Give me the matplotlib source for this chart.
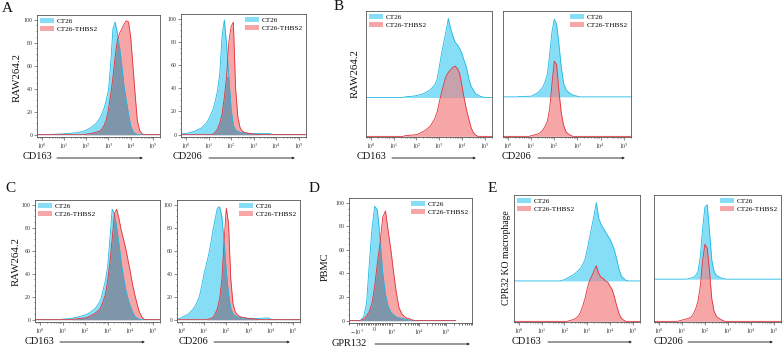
import numpy as np
import matplotlib.pyplot as plt
from matplotlib.patches import Patch

plt.rcParams['font.family'] = ['Liberation Serif', 'DejaVu Serif']
plt.rcParams['mathtext.fontset'] = 'stix'

W, H = 784, 348
STEP = 0.1  # histogram bins are 0.1 decade wide

# histogram heights (% of max), first bin given by *_from
a1_ct26_from = 0.5
a1_ct26 = [0.3, 0.4, 0.5, 0.6, 0.7, 0.8, 1.0, 1.1, 1.3, 1.4, 1.6, 1.9, 2.2, 2.6, 3.2, 4, 5, 6, 7.5, 9,
           11, 14, 18, 23, 30, 39, 62, 92, 98, 88, 76, 60, 42, 30, 18, 8, 3, 1, 0.5, 0]
a1_thbs2_from = 2.0
a1_thbs2 = [0.5, 0.7, 1, 1.5, 2, 2.5, 3, 5, 8, 13, 22, 35, 50, 68, 82, 88, 92, 96, 99, 98,
            85, 60, 35, 12, 4, 1, 0]

a2_ct26_from = -0.2
a2_ct26 = [0.5, 0.8, 1, 1.5, 2, 2.5, 3, 4, 5, 6, 8, 10, 13, 17, 22, 29, 38, 53, 85, 99,
           78, 50, 22, 8, 4, 3, 2, 2, 1.5, 1.5, 1, 1, 1, 1, 1, 1, 1, 1, 1, 1, 0.5, 0]
a2_thbs2_from = 1.2
a2_thbs2 = [0.5, 2, 5, 10, 18, 32, 50, 80, 93, 97, 40, 15, 6, 3, 2, 1.5, 1, 1, 0.5, 0.3, 0.2, 0]

# B and E: CT26 is stacked above the THBS2 trace, heights given above its own baseline
b1_ct26_from = 1.5
b1_ct26 = [0.5, 0.7, 0.8, 1, 1.2, 1.5, 2, 2.5, 3, 4, 5, 6, 8, 10, 14, 24, 35, 44, 53, 63,
           55, 49, 44, 42, 39, 35, 29, 24, 15, 9, 6, 3, 2, 1, 0.5, 0]
b1_thbs2_from = 1.5
b1_thbs2 = [0.5, 0.7, 0.9, 1, 1.2, 1.5, 2, 3, 4, 5, 6.5, 8, 11, 14, 19, 27, 35, 42, 48, 51,
            53, 55, 56, 54, 50, 40, 30, 21, 14, 7, 3, 1, 0]

b2_ct26_from = 0.5
b2_ct26 = [0.3, 0.3, 0.4, 0.4, 0.5, 0.5, 1.5, 2.5, 3.5, 5.5, 7.5, 12, 18, 34, 52, 62, 58, 42, 24, 11,
           6, 4, 2.5, 1.5, 1, 0.5, 0]
b2_thbs2_from = 1.0
b2_thbs2 = [0.5, 1, 1.5, 2, 3, 5, 8, 12, 22, 42, 60, 57, 36, 19, 9, 4, 2, 1, 0]

c1_ct26_from = 1.0
c1_ct26 = [0.5, 0.6, 0.8, 1, 1.2, 1.6, 2, 2.5, 3, 3.5, 4, 5, 6, 7.5, 9, 11, 14, 18, 26, 34,
           46, 70, 96, 92, 80, 66, 50, 37, 26, 18, 12, 7, 3, 1.5, 0.5, 0]
c1_thbs2_from = 1.5
c1_thbs2 = [0.5, 0.7, 0.9, 1.1, 1.3, 1.5, 2, 3, 4, 5, 6.5, 8, 11, 16, 22, 34, 50, 70, 92, 96,
            88, 78, 70, 62, 52, 42, 31, 22, 14, 7, 3, 0.5, 0]

c2_ct26_from = -0.3
c2_ct26 = [0.3, 0.5, 1, 2, 3, 4, 5, 7, 9, 12, 16, 21, 30, 40, 48, 56, 66, 78, 88, 97,
           98, 90, 68, 42, 22, 10, 5, 3.5, 2.5, 2, 1.5, 1.5, 1, 1, 1, 1, 1, 1, 1, 1.2,
           1.5, 1.5, 1.5, 0.5, 0]
c2_thbs2_from = 1.2
c2_thbs2 = [0.5, 1, 2, 5, 10, 18, 35, 68, 97, 84, 36, 14, 7, 4, 3, 2, 2, 1.5, 1, 1, 1, 0.5, 0]

# D: biexponential GPR132 axis, bins in display units (10^3 sits at 0.65)
d_ticks = [-0.65, 0, 0.65, 1.65, 2.65]
d_labels = ['$-10^{3}$', '0', '$10^{3}$', '$10^{4}$', '$10^{5}$']
d_ct26_from = -0.6
d_ct26 = [0, 0.5, 4, 15, 48, 78, 97, 94, 70, 40, 22, 12, 7, 5, 3, 2.5, 2, 1.5, 1, 0.5, 0]
d_thbs2_from = -0.6
d_thbs2 = [0, 0.5, 1.5, 4, 8, 15, 29, 49, 66, 88, 93, 76, 60, 41, 24, 11, 6, 3.5, 2, 1.5, 0.5, 0]

e1_ct26_from = 1.8
e1_ct26 = [0, 0.5, 1, 2, 3, 4, 5, 6.5, 8, 10, 13, 17, 25, 34, 43, 52, 62, 50, 45, 42,
           39, 36, 33, 29, 24, 17, 9, 4, 2, 0.5, 0]
e1_thbs2_from = 2.2
e1_thbs2 = [0.5, 1, 1.5, 2.5, 4, 7, 12, 18, 26, 32, 36, 40, 44, 38, 35, 34, 32, 31, 28, 25,
            19, 12, 6, 2.5, 1, 0]

e2_ct26_from = 1.2
e2_ct26 = [0, 0.5, 1, 1.5, 3, 6, 18, 40, 57, 59, 38, 15, 6, 3, 2, 1, 0.5, 0]
e2_thbs2_from = 0.9
e2_thbs2 = [0.5, 1, 1.5, 2, 2.5, 3.5, 6, 10, 16, 28, 48, 61, 58, 40, 18, 8, 4, 2.5, 1.5, 0.5, 0]

legend_labels = ['CT26', 'CT26-THBS2']

CYAN, CYAN_EDGE = '#86def6', '#1fb6e4'
RED, RED_EDGE = '#f6a6a6', '#e3303a'
MIX = '#7f95aa'
MIX_STACK = '#c7a2ac'
INK = '#333333'

fig = plt.figure(figsize=(7.84, 3.48), dpi=100)


def box(l, t, r, b):
    return fig.add_axes([l / W, 1 - b / H, (r - l) / W, (b - t) / H])


def place(grid, start, vals):
    out = np.zeros(len(grid))
    i0 = int(round((start - grid[0]) / STEP))
    out[i0:i0 + len(vals)] = vals
    return out


def hist(ax, grid, cyan, red, base=0.0, mix=MIX):
    top = base + cyan
    ax.fill_between(grid, base, top, color=CYAN, lw=0)
    ax.fill_between(grid, 0, red, color=RED, lw=0)
    both = np.minimum(top, red)
    ax.fill_between(grid, base, both, where=both > base, interpolate=True, color=mix, lw=0)
    ax.plot(grid, top, color=CYAN_EDGE, lw=0.6)
    ax.plot(grid, red, color=RED_EDGE, lw=0.6)


def frame(ax, yticks=True):
    for s in ax.spines.values():
        s.set_linewidth(0.6)
        s.set_color('#555555')
    ax.tick_params(which='both', direction='out', width=0.4, colors=INK, labelsize=4.2, pad=1)
    ax.tick_params(which='major', length=2)
    ax.tick_params(which='minor', length=1)
    if yticks:
        ax.set_ylim(-2, 104)
        ax.set_yticks(range(0, 101, 20))
        ax.set_yticks(range(0, 101, 5), minor=True)
    else:
        ax.set_ylim(-0.5, 100)
        ax.set_yticks([])
        ax.set_yticks([], minor=True)


def log_axis(ax, xlim=(-0.22, 5.32)):
    ax.set_xlim(*xlim)
    ax.set_xticks(range(6))
    ax.set_xticklabels([f'$10^{{{k}}}$' for k in range(6)])
    minor = [k + np.log10(m) for k in range(-1, 6) for m in range(2, 10)]
    ax.set_xticks([v for v in minor if xlim[0] < v < xlim[1]], minor=True)


def legend(ax, loc):
    handles = [Patch(facecolor=CYAN, edgecolor='none'), Patch(facecolor=RED, edgecolor='none')]
    ax.legend(handles, legend_labels, loc=loc, fontsize=5.2, frameon=False, handlelength=2.0,
              handleheight=0.8, handletextpad=0.35, labelspacing=0.25, borderaxespad=0.2, borderpad=0.2)


def text(x, y, s, size=7.5, **kw):
    fig.text(x / W, 1 - y / H, s, fontsize=size, color='#111111', **kw)


def xlabel(x, y, s, x0, x1):
    text(x, y, s, ha='left', va='center')
    fig.add_artist(plt.Annotation('', xy=(x1 / W, 1 - (y + 1) / H), xytext=(x0 / W, 1 - (y + 1) / H),
                                  xycoords='figure fraction',
                                  arrowprops=dict(arrowstyle='-|>', lw=0.7, color=INK, mutation_scale=3,
                                                  shrinkA=0, shrinkB=0)))


grid = np.round(np.arange(-0.4, 5.55, STEP), 2)
dgrid = np.round(np.arange(-0.9, 3.05, STEP), 2)

# box, data, stacked baseline, legend loc
panels = [
    ((37, 15, 160, 137), a1_ct26_from, a1_ct26, a1_thbs2_from, a1_thbs2, None, 'upper left'),
    ((181, 14, 306, 137), a2_ct26_from, a2_ct26, a2_thbs2_from, a2_thbs2, None, 'upper right'),
    ((366, 11, 492, 137), b1_ct26_from, b1_ct26, b1_thbs2_from, b1_thbs2, 31, 'upper left'),
    ((503, 11, 631, 137), b2_ct26_from, b2_ct26, b2_thbs2_from, b2_thbs2, 31.5, 'upper right'),
    ((35, 200, 160, 322), c1_ct26_from, c1_ct26, c1_thbs2_from, c1_thbs2, None, 'upper left'),
    ((177, 200, 300, 322), c2_ct26_from, c2_ct26, c2_thbs2_from, c2_thbs2, None, 'upper right'),
    ((514, 195, 640, 322), e1_ct26_from, e1_ct26, e1_thbs2_from, e1_thbs2, 32, 'upper left'),
    ((654, 195, 781, 322), e2_ct26_from, e2_ct26, e2_thbs2_from, e2_thbs2, 33.4, 'upper right'),
]

for rect, cf, cv, rf, rv, base, loc in panels:
    ax = box(*rect)
    cyan = place(grid, cf, cv)
    red = place(grid, rf, rv)
    if base is None:
        hist(ax, grid, cyan, red)
        frame(ax, True)
    else:
        hist(ax, grid, cyan, red, base=base, mix=MIX_STACK)
        frame(ax, False)
    log_axis(ax)
    legend(ax, loc)

# D panel
ax = box(349, 198, 472, 323)
hist(ax, dgrid, place(dgrid, d_ct26_from, d_ct26), place(dgrid, d_thbs2_from, d_thbs2))
frame(ax, True)
ax.set_xlim(-0.8, 2.98)
ax.set_xticks(d_ticks)
ax.set_xticklabels(d_labels)
lin = [s * m * 0.065 for s in (-1, 1) for m in range(1, 10)]
logm = [0.65 + k + np.log10(m) for k in range(3) for m in range(2, 10)]
ax.set_xticks(lin + logm + [-0.65 - np.log10(2)], minor=True)
ax.tick_params(axis='x', which='minor', length=1.2, width=0.5)
legend(ax, 'upper right')

# panel letters
for x, y, s in [(7, 8, 'A'), (339, 7, 'B'), (10, 188, 'C'), (314, 188, 'D'), (492, 188, 'E')]:
    text(x, y, s, size=11, ha='center', va='center')

# y labels
for x, y, s, sz in [(17, 77, 'RAW264.2', 7.8), (355, 74, 'RAW264.2', 7.8), (16, 261, 'RAW264.2', 7.8),
                    (325, 267, 'PBMC', 7.5), (507, 258, 'CPR32 KO macrophage', 7)]:
    text(x, y, s, size=sz, ha='center', va='center', rotation=90)

# x labels with arrows
xlabel(23, 157, 'CD163', 57, 143)
xlabel(173, 157, 'CD206', 209, 295)
xlabel(357, 157, 'CD163', 392, 476)
xlabel(502, 157, 'CD206', 538, 625)
xlabel(25, 341, 'CD163', 60, 145)
xlabel(179, 341, 'CD206', 214, 290)
xlabel(332, 343, 'GPR132', 375, 470)
xlabel(512, 341, 'CD163', 548, 632)
xlabel(654, 341, 'CD206', 688, 773)

fig.savefig('out.png', dpi=100)
